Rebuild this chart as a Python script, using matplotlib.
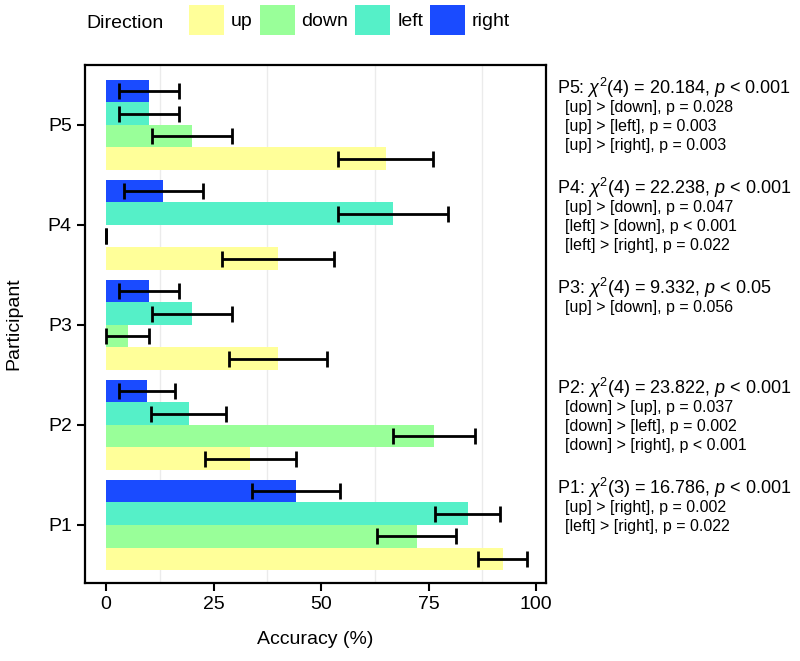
import numpy as np
import matplotlib
matplotlib.use('Agg')
import matplotlib.pyplot as plt
from matplotlib.patches import Patch
from matplotlib.ticker import MultipleLocator

plt.rcParams['font.family'] = ['Liberation Sans', 'DejaVu Sans']
plt.rcParams['mathtext.fontset'] = 'custom'
plt.rcParams['mathtext.rm'] = 'Liberation Sans'
plt.rcParams['mathtext.it'] = 'Liberation Sans:italic'

participants = ['P1', 'P2', 'P3', 'P4', 'P5']
directions = ['up', 'down', 'left', 'right']
colors = ['#ffff99', '#99ff99', '#55f0c8', '#1a4bff']

# accuracy (%) per participant, one list per direction
acc_up = [92.2, 33.5, 40.0, 40.0, 65.0]
acc_down = [72.2, 76.3, 5.0, 0.0, 20.0]
acc_left = [84.1, 19.2, 20.0, 66.7, 10.0]
acc_right = [44.1, 9.6, 10.0, 13.3, 10.0]

err_up = [5.6, 10.6, 11.3, 13.0, 11.0]
err_down = [9.2, 9.6, 5.0, 0.0, 9.3]
err_left = [7.5, 8.8, 9.3, 12.7, 7.0]
err_right = [10.2, 6.5, 7.0, 9.2, 7.0]

values = [acc_up, acc_down, acc_left, acc_right]
errors = [err_up, err_down, err_left, err_right]

headings = [
    r'P1: $\chi^2$(3) = 16.786, $p$ < 0.001',
    r'P2: $\chi^2$(4) = 23.822, $p$ < 0.001',
    r'P3: $\chi^2$(4) = 9.332, $p$ < 0.05',
    r'P4: $\chi^2$(4) = 22.238, $p$ < 0.001',
    r'P5: $\chi^2$(4) = 20.184, $p$ < 0.001',
]
posthoc = [
    ['[up] > [right], p = 0.002', '[left] > [right], p = 0.022'],
    ['[down] > [up], p = 0.037', '[down] > [left], p = 0.002', '[down] > [right], p < 0.001'],
    ['[up] > [down], p = 0.056'],
    ['[up] > [down], p = 0.047', '[left] > [down], p < 0.001', '[left] > [right], p = 0.022'],
    ['[up] > [down], p = 0.028', '[up] > [left], p = 0.003', '[up] > [right], p = 0.003'],
]

fig = plt.figure(figsize=(8, 6.61), dpi=100)
ax = fig.add_axes([0.10625, 0.118, 0.57625, 0.7837])

y = np.arange(len(participants))
h = 0.225
for i, d in enumerate(directions):
    pos = y - 0.3375 + i * h
    ax.barh(pos, values[i], height=h, color=colors[i], zorder=2)
    ax.errorbar(values[i], pos, xerr=errors[i], fmt='none', ecolor='black',
                elinewidth=2, capsize=5.5, capthick=2, zorder=3)

ax.set_xlim(-4.9, 102.3)
ax.set_ylim(-0.58, 4.6)
ax.set_xticks([0, 25, 50, 75, 100])
ax.xaxis.set_minor_locator(MultipleLocator(12.5))
ax.set_yticks(y)
ax.set_yticklabels(participants)
ax.grid(which='minor', axis='x', color='#ebebeb', linewidth=1, zorder=0)
ax.tick_params(which='minor', length=0)
ax.tick_params(which='major', labelsize=14, width=1.5, length=6, color='black')
for s in ax.spines.values():
    s.set_linewidth(1.6)
ax.set_xlabel('Accuracy (%)', fontsize=14, labelpad=13)
ax.set_ylabel('Participant', fontsize=14, labelpad=18)

# annotation text to the right of the panel
trans = ax.get_yaxis_transform()
for i in range(len(participants)):
    ax.text(1.024, y[i] + 0.37, headings[i], transform=trans, fontsize=13,
            va='center', ha='left', clip_on=False)
    for j, line in enumerate(posthoc[i]):
        ax.text(1.041, y[i] + 0.17 - j * 0.19, line, transform=trans,
                fontsize=11.5, va='center', ha='left', clip_on=False)

# legend across the top
fig.text(86 / 800, 1 - 23 / 661, 'Direction', fontsize=14, va='center', ha='left')
handles = [Patch(facecolor=c, edgecolor='none') for c in colors]
fig.legend(handles, directions, loc='center left', bbox_to_anchor=(189 / 800, 1 - 20 / 661),
           ncol=4, frameon=False, fontsize=14, handlelength=1.8, handleheight=2.0,
           handletextpad=0.36, columnspacing=0.35, borderpad=0, borderaxespad=0)

fig.savefig('out.png', dpi=100)
